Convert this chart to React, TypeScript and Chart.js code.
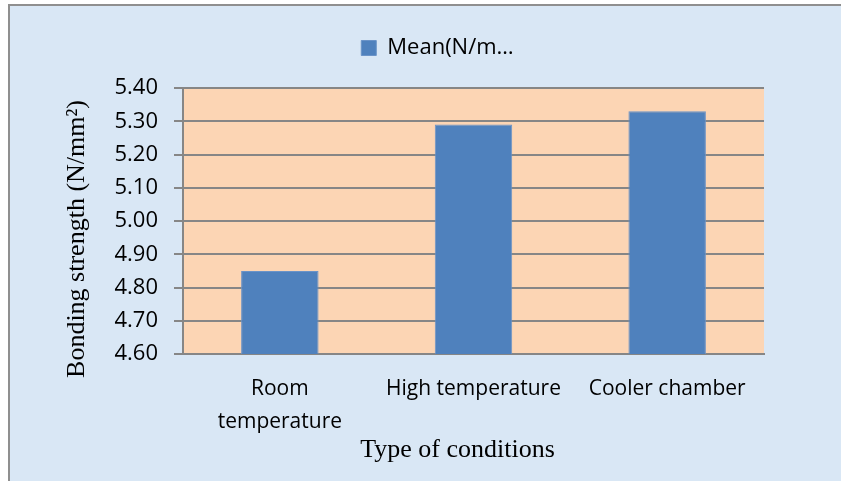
import React, { useEffect, useRef } from 'react';
import { Chart, registerables } from 'chart.js';

Chart.register(...registerables);

const categories: (string | string[])[] = [['Room', 'temperature'], 'High temperature', 'Cooler chamber'];
const meanValues = [4.85, 5.29, 5.33];
const seriesLabel = 'Mean(N/m…';
const yMin = 4.6;
const yMax = 5.4;
const yStep = 0.1;
const yTitle = 'Bonding strength (N/mm²)';
const xTitle = 'Type of conditions';

const gridGrey = '#868686';
const titleFont = '26px "Liberation Serif"';

const bgPlugin = {
  id: 'bgPlugin',
  beforeDraw(chart: any) {
    const { ctx, chartArea: a, width, height } = chart;
    ctx.save();
    ctx.fillStyle = '#d9e7f5';
    ctx.fillRect(9, 5, width, height);
    ctx.strokeStyle = '#8f8f8f';
    ctx.lineWidth = 2;
    ctx.beginPath();
    ctx.moveTo(9, height);
    ctx.lineTo(9, 5);
    ctx.lineTo(width, 5);
    ctx.stroke();
    ctx.fillStyle = '#fcd5b4';
    ctx.fillRect(a.left, a.top, a.right - a.left, a.bottom - a.top);
    ctx.restore();
  },
};

// Axis titles, placed like the original (slightly off-centre relative to the plot area)
const axisTitlePlugin = {
  id: 'axisTitlePlugin',
  afterDraw(chart: any) {
    const { ctx, chartArea: a } = chart;
    const xs = chart.scales.x;
    const ys = chart.scales.y;
    ctx.save();
    ctx.fillStyle = '#000';
    ctx.font = titleFont;
    ctx.textAlign = 'center';
    ctx.textBaseline = 'middle';
    ctx.fillText(xTitle, (a.left + a.right) / 2 - 16, xs.bottom - 31);
    ctx.translate(ys.left + 43, (a.top + a.bottom) / 2 + 18);
    ctx.rotate(-Math.PI / 2);
    ctx.fillText(yTitle, 0, 0);
    ctx.restore();
  },
};

export default function App() {
  const ref = useRef<HTMLCanvasElement | null>(null);
  useEffect(() => {
    if (!ref.current) return;
    const chart = new Chart(ref.current, {
      type: 'bar',
      data: {
        labels: categories,
        datasets: [
          {
            label: seriesLabel,
            data: meanValues,
            backgroundColor: '#4f81bd',
            borderColor: '#6a93c8',
            borderWidth: 1,
            categoryPercentage: 1,
            barPercentage: 0.4,
          },
        ],
      },
      options: {
        animation: false,
        responsive: false,
        devicePixelRatio: 1,
        layout: { padding: { top: 27, left: 34, right: 0, bottom: 0 } },
        plugins: {
          legend: {
            display: true,
            position: 'top',
            labels: {
              boxWidth: 15,
              boxHeight: 15,
              padding: 10,
              color: '#000',
              font: { family: 'Open Sans', size: 22 },
            },
          },
          tooltip: { enabled: false },
        },
        scales: {
          x: {
            position: 'bottom',
            grid: { display: false, drawTicks: false },
            border: { display: true, color: gridGrey, width: 2 },
            ticks: {
              color: '#000',
              font: { family: 'Open Sans', size: 21, lineHeight: 1.57 },
              padding: 19,
              maxRotation: 0,
              autoSkip: false,
            },
            title: { display: false, text: xTitle },
            afterFit: (s: any) => {
              s.height = 127;
            },
          },
          xTop: {
            type: 'linear',
            position: 'top',
            display: true,
            grid: { display: false, drawTicks: false },
            border: { display: false },
            ticks: { display: false },
            afterFit: (s: any) => {
              s.height = 19;
            },
          },
          y: {
            min: yMin,
            max: yMax,
            grid: { color: gridGrey, lineWidth: 2, tickLength: 9, drawTicks: true },
            border: { display: true, color: gridGrey, width: 2 },
            ticks: {
              stepSize: yStep,
              color: '#000',
              padding: 16,
              font: { family: 'Open Sans', size: 22 },
              callback: (v: any) => Number(v).toFixed(2),
            },
            title: { display: false, text: yTitle },
            afterFit: (s: any) => {
              s.width = 149;
            },
          },
          yRight: {
            type: 'linear',
            position: 'right',
            display: true,
            grid: { display: false, drawTicks: false },
            border: { display: false },
            ticks: { display: false },
            afterFit: (s: any) => {
              s.width = 77;
            },
          },
        },
      } as any,
      plugins: [bgPlugin, axisTitlePlugin],
    });
    return () => chart.destroy();
  }, []);
  return (
    <div style={{ position: 'absolute', left: 0, top: 0, width: 841, height: 481 }}>
      <canvas ref={ref} width={841} height={481} style={{ display: 'block', width: 841, height: 481 }} />
    </div>
  );
}
